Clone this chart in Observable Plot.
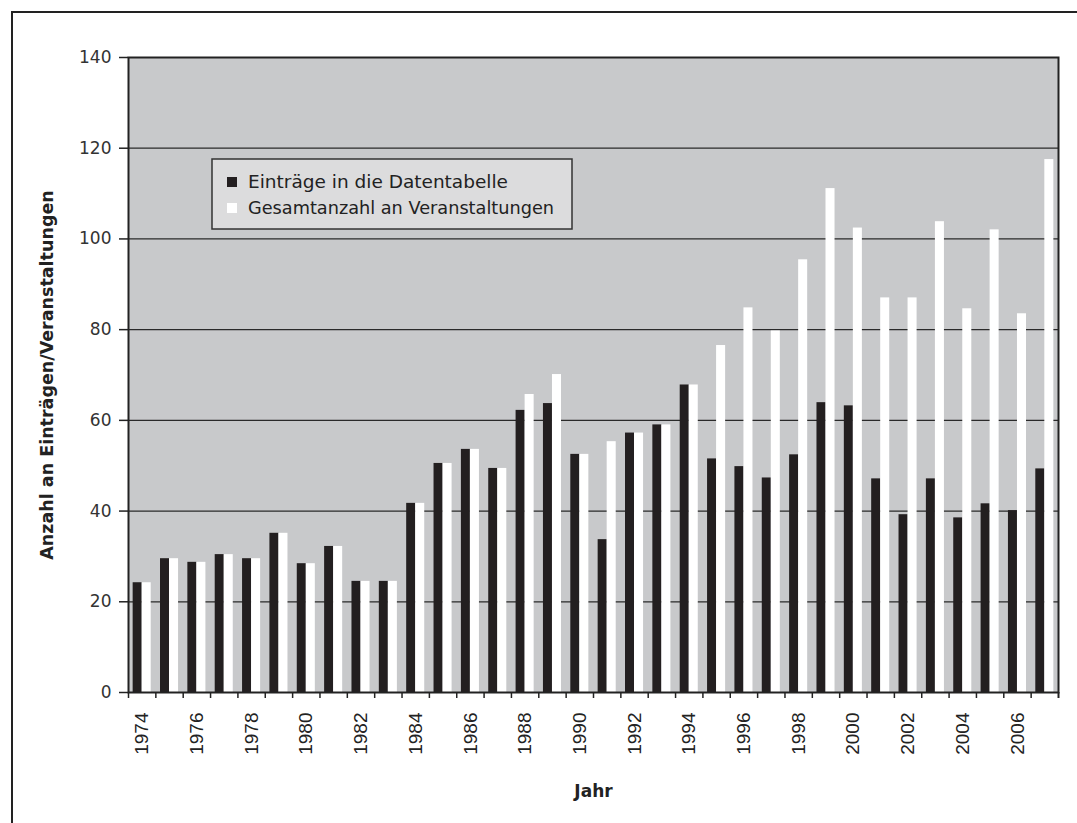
<!DOCTYPE html>
<html>
<head>
<meta charset="utf-8">
<script src="https://cdn.jsdelivr.net/npm/d3@7"></script>
<script src="https://cdn.jsdelivr.net/npm/@observablehq/plot@0.6"></script>
<style>
  html, body { margin: 0; padding: 0; background: #fff; }
  #wrap { position: relative; width: 1077px; height: 823px; overflow: hidden; }
  #outer { position: absolute; left: 11px; top: 11px; width: 1100px; height: 900px;
           border-left: 2.5px solid #222; border-top: 2.5px solid #222; }
  #chart { position: absolute; left: 0; top: 0; }
  #legend { position: absolute; left: 0; top: 0; }
</style>
</head>
<body>
<div id="wrap">
  <div id="outer"></div>
  <div id="chart"></div>
  <svg id="legend" width="1077" height="823"></svg>
</div>
<script>
const years = [1974,1975,1976,1977,1978,1979,1980,1981,1982,1983,1984,1985,1986,1987,1988,1989,1990,
               1991,1992,1993,1994,1995,1996,1997,1998,1999,2000,2001,2002,2003,2004,2005,2006,2007];
const entries = [24.2,29.5,28.7,30.4,29.5,35.1,28.4,32.2,24.5,24.5,41.7,50.5,53.6,49.4,62.2,63.7,52.5,
                 33.7,57.2,59.0,67.8,51.5,49.8,47.3,52.4,63.9,63.2,47.1,39.2,47.1,38.5,41.6,40.1,49.3];
const totals = [24.2,29.5,28.7,30.4,29.5,35.1,28.4,32.2,24.5,24.5,41.7,50.5,53.6,49.4,65.7,70.1,52.5,
                55.3,57.2,59.0,67.8,76.5,84.8,79.7,95.4,111.1,102.4,87.0,87.0,103.8,84.6,102.0,83.5,117.5];
const yearLabels = [1974,1976,1978,1980,1982,1984,1986,1988,1990,1992,1994,1996,1998,2000,2002,2004,2006];
const yTicks = [0,20,40,60,80,100,120,140];
const seriesNames = ["Einträge in die Datentabelle", "Gesamtanzahl an Veranstaltungen"];
const seriesColors = ["#231f20", "#ffffff"];

const rows = years.map((y, i) => ({year: y, entries: entries[i], total: totals[i]}));

const W = 1077, H = 823;
const mL = 128, mR = 19, mT = 57, mB = 131;
const bw = (W - mL - mR) / years.length;
const gap = bw * 0.17;

const chart = Plot.plot({
  width: W, height: H,
  marginLeft: mL, marginRight: mR, marginTop: mT, marginBottom: mB,
  style: {background: "transparent", color: "#222", fontFamily: "DejaVu Sans"},
  x: {type: "band", domain: years, padding: 0, round: false, axis: null},
  y: {domain: [0, 140], axis: null},
  marks: [
    Plot.frame({fill: "#c8c9cb"}),
    Plot.ruleY(yTicks.slice(1, -1), {stroke: "#2a2a2a", strokeWidth: 1.2}),
    Plot.barY(rows, {x: "year", y: "entries", fill: seriesColors[0], insetLeft: gap, insetRight: bw / 2}),
    Plot.barY(rows, {x: "year", y: "total", fill: seriesColors[1], insetLeft: bw / 2, insetRight: gap}),
    Plot.frame({stroke: "#222", strokeWidth: 2}),
    Plot.axisY({ticks: yTicks, tickSize: 9, tickPadding: 8, tickFormat: d => String(d), fontSize: 17,
                fontFamily: "DejaVu Sans", fill: "#333", stroke: "#222", strokeWidth: 1.5, label: null}),
    Plot.axisX({ticks: years, tickSize: 6, tickFormat: () => "", dx: -bw / 2, stroke: "#222", strokeWidth: 1.5, label: null}),
    Plot.axisX({ticks: [years[years.length - 1]], tickSize: 6, tickFormat: () => "", dx: bw / 2, stroke: "#222", strokeWidth: 2, label: null}),
    Plot.axisX({ticks: yearLabels, tickSize: 0, tickPadding: 20, tickRotate: -90, fontSize: 19,
                tickFormat: d => String(d), fontFamily: "Liberation Sans", fill: "#222", label: null}),
    Plot.text(["Anzahl an Einträgen/Veranstaltungen"], {frameAnchor: "left", dx: -81, rotate: -90,
                textAnchor: "middle", fontSize: 17.5, fontWeight: "bold", fontFamily: "DejaVu Sans", fill: "#222"}),
    Plot.text(["Jahr"], {frameAnchor: "bottom", dy: 104, fontSize: 17, fontWeight: "bold",
                fontFamily: "DejaVu Sans", fill: "#222"})
  ]
});
document.getElementById("chart").appendChild(chart);

// legend
const lg = d3.select("#legend");
lg.append("rect").attr("x", 212).attr("y", 159).attr("width", 360).attr("height", 70)
  .attr("fill", "#dcdcdd").attr("stroke", "#333").attr("stroke-width", 1.5);
const lens = [260, 306];
seriesNames.forEach((name, i) => {
  const cy = 181.5 + i * 26;
  lg.append("rect").attr("x", 227).attr("y", cy - 4.5).attr("width", 10).attr("height", 10)
    .attr("fill", seriesColors[i]);
  lg.append("text").attr("x", 248).attr("y", cy + 6).text(name)
    .attr("font-family", "DejaVu Sans").attr("font-size", 18).attr("fill", "#222")
    .attr("textLength", lens[i]).attr("lengthAdjust", "spacingAndGlyphs");
});
</script>
</body>
</html>
